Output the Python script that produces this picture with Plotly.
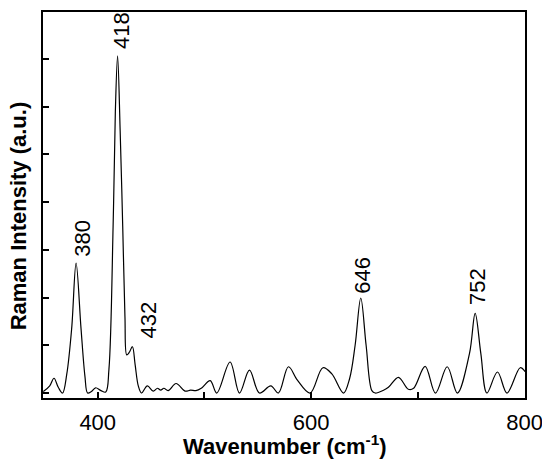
import plotly.graph_objects as go

# Raman spectrum, values
wavenumber = [
    349, 355, 359, 363, 367, 371, 375.6, 379.7, 384.3, 388, 390.5,
    394, 398, 403, 407.5, 410.5, 414.4, 416.5, 418.6, 421, 423.4,
    425.5, 427.2, 429.5, 432.5, 435, 438, 441,
    446.5, 452, 456, 459, 462, 466, 473.4, 481.8, 487, 492, 497,
    505.4, 511.5, 524, 532.8, 542.2, 551.5, 562.2, 569.3, 578.7,
    587.1, 599, 611, 619.4, 630.3, 636, 641.2, 646.5, 651.5, 656.9,
    660, 667.8, 672.4, 681.8, 691, 696, 706.8, 716.5, 727.5, 737,
    748.4, 753.7, 759, 764.7, 774.6, 783.5, 795.9, 800.4,
]
intensity = [
    0.03, 0.15, 0.31, 0.12, 0.0, 0.4, 1.36, 2.72, 1.36, 0.35, 0.0,
    0.03, 0.11, 0.05, 0.02, 0.5, 3.5, 5.9, 7.06, 5.5, 3.5,
    1.6, 0.8, 0.85, 0.97, 0.6, 0.15, 0.0,
    0.15, 0.04, 0.1, 0.06, 0.1, 0.05, 0.2, 0.04, 0.06, 0.05, 0.1,
    0.26, 0.0, 0.65, 0.0, 0.48, 0.0, 0.15, 0.0, 0.55,
    0.27, 0.0, 0.53, 0.4, 0.0, 0.3, 1.0, 1.99, 1.0, 0.05,
    0.0, 0.06, 0.12, 0.33, 0.08, 0.1, 0.56, 0.0, 0.55, 0.0,
    0.83, 1.67, 0.83, 0.0, 0.44, 0.0, 0.53, 0.45,
]

peak_labels = ["380", "418", "432", "646", "752"]
peak_label_x = [385.7, 421.7, 446.7, 648.2, 755.3]
peak_label_y = [2.81, 7.17, 1.10, 2.04, 1.81]

x_ticks = [400, 600, 800]
x_minor_ticks = [500, 700]
y_ticks = [0, 1, 2, 3, 4, 5, 6, 7]

fig = go.Figure()
fig.add_trace(go.Scatter(
    x=wavenumber, y=intensity, mode='lines',
    line=dict(color='black', width=1.2, shape='spline', smoothing=1.0),
    hoverinfo='skip', showlegend=False,
))

font_main = "Liberation Sans, Arial, sans-serif"

for txt, xx, yy in zip(peak_labels, peak_label_x, peak_label_y):
    fig.add_annotation(
        x=xx, y=yy, xref='x', yref='y', text=txt, showarrow=False,
        textangle=-90, xanchor='center', yanchor='bottom',
        font=dict(family=font_main, size=22, color='black'),
    )

# axis titles
fig.add_annotation(
    x=0.503, y=-0.121, xref='paper', yref='paper', showarrow=False,
    text="<b>Wavenumber (cm<sup>-1</sup>)</b>",
    xanchor='center', yanchor='middle',
    font=dict(family=font_main, size=22, color='black'),
)
fig.add_annotation(
    x=-0.049, y=0.4716, xref='paper', yref='paper', showarrow=False,
    text="<b>Raman Intensity (a.u.)</b>", textangle=-90,
    xanchor='center', yanchor='middle',
    font=dict(family=font_main, size=22, color='black'),
)

# the page body adds an 8px offset, so the figure is 8px smaller
fig.update_layout(
    width=542, height=453,
    margin=dict(l=35, r=25, t=2, b=63),
    paper_bgcolor='white', plot_bgcolor='white',
    font=dict(family=font_main, color='black'),
    xaxis=dict(
        range=[348.7, 800.4], tickvals=x_ticks,
        ticks='inside', ticklen=6, tickwidth=1.5, tickcolor='black',
        minor=dict(tickvals=x_minor_ticks, ticks='inside', ticklen=6,
                   tickwidth=1.5, tickcolor='black'),
        showline=True, linecolor='black', linewidth=2, mirror=True,
        showgrid=False, zeroline=False,
        tickfont=dict(size=22), ticklabelstandoff=4,
    ),
    yaxis=dict(
        range=[-0.104, 7.98], tickvals=y_ticks, showticklabels=False,
        ticks='inside', ticklen=6, tickwidth=1.5, tickcolor='black',
        showline=True, linecolor='black', linewidth=2, mirror=True,
        showgrid=False, zeroline=False,
    ),
)

fig.write_html("out.html")
